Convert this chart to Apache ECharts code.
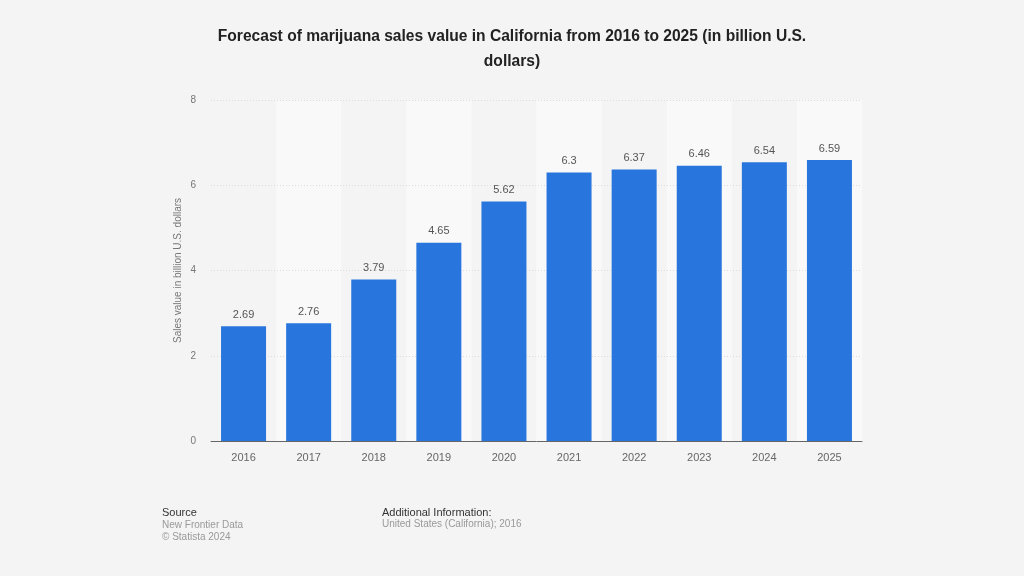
<!DOCTYPE html>
<html>
<head>
<meta charset="utf-8">
<script src="https://cdn.jsdelivr.net/npm/echarts@6/dist/echarts.min.js"></script>
<style>html,body{margin:0;padding:0;background:#f4f4f4}#c{width:1024px;height:576px}</style>
</head>
<body>
<div id="c"></div>
<script>
const categories = ['2016','2017','2018','2019','2020','2021','2022','2023','2024','2025'];
const salesValues = [2.69, 2.76, 3.79, 4.65, 5.62, 6.3, 6.37, 6.46, 6.54, 6.59];
const yTicks = [0, 2, 4, 6, 8];
const titleText = 'Forecast of marijuana sales value in California from 2016 to 2025 (in billion U.S.\ndollars)';
const yAxisName = 'Sales value in billion U.S. dollars';

const chart = echarts.init(document.getElementById('c'), null, {renderer: 'canvas'});
const font = '"Liberation Sans", Arial, sans-serif';
chart.setOption({
  backgroundColor: '#f4f4f4',
  animation: false,
  title: {
    text: titleText,
    left: 'center',
    top: 19,
    textStyle: {fontFamily: font, fontSize: 15.6, fontWeight: 'bold', color: '#222', lineHeight: 25, align: 'center'}
  },
  grid: {left: 211, right: 162, top: 100, bottom: 135, containLabel: false},
  xAxis: [{
    type: 'category',
    data: categories,
    z: 0,
    axisLine: {show: false},
    axisTick: {show: false},
    axisLabel: {color: '#666', fontFamily: font, fontSize: 11, margin: 11},
    splitArea: {show: true, interval: 0, areaStyle: {color: ['rgba(0,0,0,0)', '#f9f9f9']}}
  }, {
    type: 'category',
    data: categories,
    position: 'bottom',
    z: 3,
    axisLine: {show: true, onZero: false, lineStyle: {color: '#666', width: 1}},
    axisTick: {show: false},
    axisLabel: {show: false},
    splitLine: {show: false},
    splitArea: {show: false}
  }],
  yAxis: {
    type: 'value',
    z: 1,
    min: yTicks[0],
    max: yTicks[yTicks.length - 1],
    interval: 2,
    name: yAxisName,
    nameLocation: 'middle',
    nameGap: 28,
    nameMoveOverlap: false,
    nameTextStyle: {color: '#777', fontFamily: font, fontSize: 10},
    axisLine: {show: false},
    axisTick: {show: false},
    axisLabel: {color: '#777', fontFamily: font, fontSize: 10, margin: 15},
    splitLine: {lineStyle: {color: '#dcdcdc', type: [1, 2], width: 1}}
  },
  series: [{
    type: 'bar',
    data: salesValues,
    xAxisIndex: 0,
    barWidth: 45,
    z: 2,
    itemStyle: {color: '#2876dd'},
    label: {show: true, position: 'top', distance: 6, color: '#555', fontFamily: font, fontSize: 11}
  }],
  graphic: [
    {type: 'text', left: 162, top: 507, style: {text: 'Source', fill: '#333', font: '11px ' + font}},
    {type: 'text', left: 162, top: 519, style: {text: 'New Frontier Data\n© Statista 2024', fill: '#999', font: '10px ' + font, lineHeight: 12}},
    {type: 'text', left: 382, top: 507, style: {text: 'Additional Information:', fill: '#333', font: '11px ' + font}},
    {type: 'text', left: 382, top: 519, style: {text: 'United States (California); 2016', fill: '#999', font: '10px ' + font}}
  ]
});
</script>
</body>
</html>
